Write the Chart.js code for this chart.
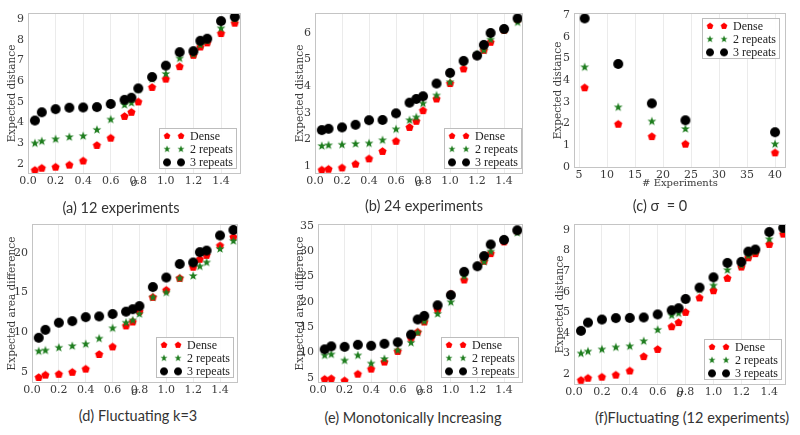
<!DOCTYPE html>
<html>
<head>
<meta charset="utf-8">
<script src="https://cdn.jsdelivr.net/npm/chart.js@4.4.1/dist/chart.umd.min.js"></script>
<style>
  body { margin: 0; background: #fff; width: 800px; height: 435px; position: relative; overflow: hidden; }
  canvas { position: absolute; }
  .cap { position: absolute; transform: translate(-50%, -50%); font-family: Lato, sans-serif; font-size: 14.5px; color: #333; white-space: nowrap; }
</style>
</head>
<body>
<canvas id="chartA" width="247" height="190" style="left:0px;top:0px"></canvas>
<canvas id="chartB" width="241" height="190" style="left:288px;top:0px"></canvas>
<canvas id="chartC" width="246" height="189" style="left:546px;top:0px"></canvas>
<canvas id="chartD" width="244" height="188" style="left:0px;top:211px"></canvas>
<canvas id="chartE" width="241" height="188" style="left:288px;top:211px"></canvas>
<canvas id="chartF" width="244" height="190" style="left:548px;top:211px"></canvas>

<div class="cap" style="left:121px;top:207px">(a) 12 experiments</div>
<div class="cap" style="left:424px;top:205px">(b) 24 experiments</div>
<div class="cap" style="left:660px;top:205px">(c) σ&nbsp; = 0</div>
<div class="cap" style="left:138px;top:415px">(d) Fluctuating k=3</div>
<div class="cap" style="left:413px;top:417px">(e) Monotonically Increasing</div>
<div class="cap" style="left:692px;top:417px">(f)Fluctuating (12 experiments)</div>

<script>
// x values
const sigma = [0.05, 0.1, 0.2, 0.3, 0.4, 0.5, 0.6, 0.7, 0.75, 0.8, 0.9, 1.0, 1.1, 1.2, 1.25, 1.3, 1.4, 1.5];
const experiments = [6, 12, 18, 24, 40];

// (a) 12 experiments
const aDense = [1.7, 1.8, 1.85, 1.95, 2.15, 2.9, 3.25, 4.3, 4.5, 5.0, 5.7, 6.1, 6.7, 7.25, 7.65, 7.85, 8.3, 8.8];
const aRep2  = [3.0, 3.1, 3.2, 3.3, 3.35, 3.65, 4.15, 4.85, 4.95, 5.6, 6.1, 6.35, 7.1, 7.3, 7.75, 7.95, 8.55, 9.0];
const aRep3  = [4.1, 4.5, 4.65, 4.72, 4.73, 4.75, 4.9, 5.1, 5.2, 5.65, 6.2, 6.75, 7.4, 7.45, 7.95, 8.05, 8.9, 9.1];

// (b) 24 experiments
const bDense = [0.85, 0.88, 0.93, 1.07, 1.27, 1.55, 1.93, 2.45, 2.68, 3.08, 3.52, 4.1, 4.65, 5.15, 5.35, 5.65, 6.1, 6.5];
const bRep2  = [1.75, 1.78, 1.8, 1.83, 1.85, 1.97, 2.38, 2.72, 2.83, 3.35, 3.65, 4.15, 4.9, 5.2, 5.35, 5.75, 6.1, 6.4];
const bRep3  = [2.35, 2.4, 2.45, 2.55, 2.72, 2.73, 2.98, 3.38, 3.52, 3.62, 4.1, 4.5, 4.95, 5.15, 5.55, 6.0, 6.15, 6.55];

// (c) sigma = 0
const cDense = [3.65, 1.97, 1.4, 1.05, 0.65];
const cRep2  = [4.6, 2.75, 2.1, 1.75, 1.05];
const cRep3  = [6.85, 4.75, 2.93, 2.15, 1.6];

// (d) fluctuating k=3
const dDense = [4.3, 4.6, 4.7, 4.95, 5.35, 7.2, 8.15, 10.8, 11.3, 12.6, 14.4, 15.3, 16.8, 18.2, 19.2, 19.7, 20.9, 22.0];
const dRep2  = [7.6, 7.7, 8.05, 8.25, 8.5, 9.2, 10.5, 11.2, 11.5, 12.3, 14.4, 15.0, 16.8, 17.1, 18.3, 18.8, 20.5, 21.5];
const dRep3  = [9.3, 10.3, 11.2, 11.4, 11.9, 12.0, 12.3, 12.6, 12.9, 13.3, 15.7, 16.9, 18.6, 18.8, 20.1, 20.3, 22.2, 22.9];

// (e) monotonically increasing
const eDense = [4.7, 4.8, 4.4, 5.7, 6.7, 8.1, 10.2, 12.8, 14.0, 16.0, 18.4, 21.5, 24.3, 27.0, 28.0, 29.5, 31.8, 34.0];
const eRep2  = [9.4, 9.6, 8.4, 9.4, 7.8, 8.7, 10.4, 11.9, 13.9, 16.1, 17.6, 19.9, 25.0, 27.1, 27.9, 29.9, 32.2, 33.6];
const eRep3  = [10.6, 11.2, 11.1, 11.5, 11.3, 11.7, 12.0, 13.5, 16.5, 17.2, 19.3, 21.3, 25.9, 27.0, 29.0, 31.3, 32.2, 34.1];

// (f) fluctuating, 12 experiments
const fDense = [1.7, 1.8, 1.85, 1.95, 2.15, 2.85, 3.2, 4.3, 4.5, 5.0, 5.7, 6.05, 6.65, 7.2, 7.65, 7.85, 8.3, 8.8];
const fRep2  = [3.0, 3.1, 3.2, 3.3, 3.35, 3.6, 4.15, 4.85, 4.95, 5.6, 6.1, 6.3, 7.05, 7.3, 7.75, 7.95, 8.55, 9.0];
const fRep3  = [4.1, 4.5, 4.65, 4.72, 4.73, 4.75, 4.9, 5.1, 5.2, 5.65, 6.2, 6.7, 7.4, 7.45, 7.95, 8.05, 8.9, 9.1];

const seriesNames = ['Dense', '2 repeats', '3 repeats'];

// marker images
function newCanvas(r) {
  const c = document.createElement('canvas');
  c.width = c.height = Math.ceil(r * 2 + 2);
  return c;
}
function pentagon(color, r) {
  const c = newCanvas(r), g = c.getContext('2d'), m = c.width / 2;
  g.fillStyle = color;
  g.beginPath();
  for (let k = 0; k < 5; k++) {
    const t = -Math.PI / 2 + k * 2 * Math.PI / 5;
    g.lineTo(m + r * Math.cos(t), m + r * Math.sin(t));
  }
  g.closePath();
  g.fill();
  return c;
}
function star(color, r) {
  const c = newCanvas(r), g = c.getContext('2d'), m = c.width / 2;
  g.fillStyle = color;
  g.beginPath();
  for (let k = 0; k < 10; k++) {
    const t = -Math.PI / 2 + k * Math.PI / 5;
    const rr = k % 2 ? r * 0.4 : r;
    g.lineTo(m + rr * Math.cos(t), m + rr * Math.sin(t));
  }
  g.closePath();
  g.fill();
  return c;
}
function dot(color, r) {
  const c = newCanvas(r), g = c.getContext('2d'), m = c.width / 2;
  g.fillStyle = color;
  g.beginPath();
  g.arc(m, m, r, 0, Math.PI * 2);
  g.fill();
  return c;
}
const markers = [pentagon('#ff0000', 4.3), star('#1e7d1e', 4.7), dot('#000000', 5)];

const frame = {
  id: 'frame',
  afterDraw(chart) {
    const { ctx, chartArea: a } = chart;
    ctx.save();
    ctx.strokeStyle = '#c4c4c4';
    ctx.lineWidth = 1;
    ctx.strokeRect(Math.round(a.left) + 0.5, Math.round(a.top) + 0.5, Math.round(a.right - a.left) - 1, Math.round(a.bottom - a.top) - 1);
    ctx.restore();
  }
};

const boxLegend = {
  id: 'boxLegend',
  afterDraw(chart, args, o) {
    const { ctx, chartArea: a } = chart;
    const w = 78, h = 41;
    const x = a.right - w - o.right;
    const y = o.corner === 'top' ? a.top + o.gap : a.bottom - h - o.gap;
    ctx.save();
    ctx.fillStyle = 'rgba(255,255,255,0.9)';
    ctx.fillRect(x, y, w, h);
    ctx.strokeStyle = '#bdbdbd';
    ctx.lineWidth = 1;
    ctx.strokeRect(Math.round(x) + 0.5, Math.round(y) + 0.5, w - 1, h - 1);
    ctx.font = '12px "Liberation Serif", serif';
    ctx.fillStyle = '#222';
    ctx.textBaseline = 'middle';
    chart.data.datasets.forEach((ds, i) => {
      const cy = y + 8 + i * 13.2;
      const img = ds.pointStyle, k = 0.8;
      [8, 22].forEach(dx => {
        ctx.drawImage(img, x + dx - img.width * k / 2, cy - img.height * k / 2, img.width * k, img.height * k);
      });
      ctx.fillText(ds.label, x + 31, cy + 0.5);
    });
    ctx.restore();
  }
};

const tickFont = { family: '"DejaVu Serif", serif', size: 11 };

function makeChart(id, s) {
  const xs = s.xs;
  const series = [s.dense, s.rep2, s.rep3];
  return new Chart(document.getElementById(id), {
    type: 'scatter',
    data: {
      datasets: series.map((vals, i) => ({
        label: seriesNames[i],
        data: xs.map((x, j) => ({ x: x, y: vals[j] })),
        pointStyle: markers[i],
        pointRadius: 4,
        pointHoverRadius: 4,
        order: 2 - i,
      })),
    },
    options: {
      responsive: false,
      animation: false,
      devicePixelRatio: 1,
      layout: { padding: { left: 0, top: 13, right: 6, bottom: 0 } },
      plugins: {
        legend: { display: false },
        tooltip: { enabled: false },
        boxLegend: s.legend,
      },
      scales: {
        x: {
          type: 'linear',
          min: s.xMin,
          max: s.xMax,
          grid: { color: '#ebebeb', drawTicks: false },
          border: { display: false },
          ticks: {
            stepSize: s.xStep,
            includeBounds: false,
            maxRotation: 0,
            padding: 1,
            color: '#3a3a3a',
            font: tickFont,
            callback: s.xFmt,
          },
          title: {
            display: true,
            text: s.xTitle,
            color: '#3a3a3a',
            font: s.xTitleFont,
            padding: { top: 0, bottom: 0 },
          },
          afterFit: sc => { sc.height = s.xHeight; },
        },
        y: {
          min: s.yMin,
          max: s.yMax,
          grid: { display: false, drawTicks: false },
          border: { display: false },
          ticks: {
            stepSize: s.yStep,
            includeBounds: false,
            padding: 4,
            color: '#3a3a3a',
            font: tickFont,
          },
          title: {
            display: true,
            text: s.yTitle,
            color: '#3a3a3a',
            font: { family: '"DejaVu Serif", serif', size: 10.5 },
            padding: { top: 6, bottom: 0 },
          },
          afterFit: sc => { sc.width = s.yWidth; },
        },
      },
    },
    plugins: [frame, boxLegend],
  });
}

const sigmaFmt = v => v.toFixed(1);
const sigmaTitle = { family: '"DejaVu Serif", serif', size: 11, style: 'italic' };
const bottomRight = { corner: 'bottom', right: 4, gap: 5 };

makeChart('chartA', {
  xs: sigma, dense: aDense, rep2: aRep2, rep3: aRep3,
  xMin: 0, xMax: 1.545, xStep: 0.2, xFmt: sigmaFmt, xTitle: 'σ', xTitleFont: sigmaTitle, xHeight: 16,
  yMin: 1.52, yMax: 9.29, yStep: 1, yTitle: 'Expected distance', yWidth: 28,
  legend: bottomRight,
});
makeChart('chartB', {
  xs: sigma, dense: bDense, rep2: bRep2, rep3: bRep3,
  xMin: 0, xMax: 1.54, xStep: 0.2, xFmt: sigmaFmt, xTitle: 'σ', xTitleFont: sigmaTitle, xHeight: 16,
  yMin: 0.7, yMax: 6.75, yStep: 1, yTitle: 'Expected distance', yWidth: 27,
  legend: { corner: 'bottom', right: 1, gap: 5 },
});
makeChart('chartC', {
  xs: experiments, dense: cDense, rep2: cRep2, rep3: cRep3,
  xMin: 4.1, xMax: 41.96, xStep: 5, xFmt: v => v, xTitle: '# Experiments',
  xTitleFont: { family: '"DejaVu Serif", serif', size: 10 }, xHeight: 21,
  yMin: -0.05, yMax: 7.1, yStep: 1, yTitle: 'Expected distance', yWidth: 28,
  legend: { corner: 'top', right: 6, gap: 5 },
});
makeChart('chartD', {
  xs: sigma, dense: dDense, rep2: dRep2, rep3: dRep3,
  xMin: 0, xMax: 1.534, xStep: 0.2, xFmt: sigmaFmt, xTitle: 'σ', xTitleFont: sigmaTitle, xHeight: 16,
  yMin: 3.6, yMax: 23.65, yStep: 5, yTitle: 'Expected area difference', yWidth: 32,
  legend: bottomRight,
});
makeChart('chartE', {
  xs: sigma, dense: eDense, rep2: eRep2, rep3: eRep3,
  xMin: 0, xMax: 1.543, xStep: 0.2, xFmt: sigmaFmt, xTitle: 'σ', xTitleFont: sigmaTitle, xHeight: 16,
  yMin: 3.96, yMax: 35.34, yStep: 5, yTitle: 'Expected area difference', yWidth: 30,
  legend: bottomRight,
});
makeChart('chartF', {
  xs: sigma, dense: fDense, rep2: fRep2, rep3: fRep3,
  xMin: 0, xMax: 1.52, xStep: 0.2, xFmt: sigmaFmt, xTitle: 'σ', xTitleFont: sigmaTitle, xHeight: 16,
  yMin: 1.47, yMax: 9.29, yStep: 1, yTitle: 'Expected distance', yWidth: 26,
  legend: bottomRight,
});
</script>
</body>
</html>
